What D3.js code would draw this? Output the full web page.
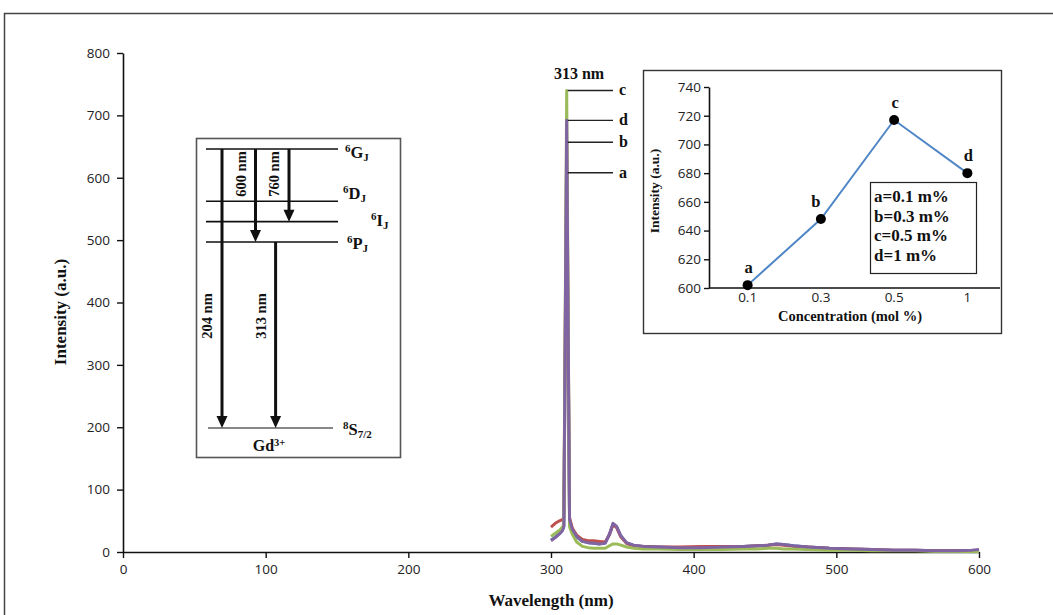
<!DOCTYPE html>
<html>
<head>
<meta charset="utf-8">
<script src="https://d3js.org/d3.v7.min.js"></script>
<style>
  body { margin: 0; background: #fff; }
  text { font-family: "Liberation Serif", "Times New Roman", serif; font-weight: bold; fill: #111; }
  .tick text { font-family: "Open Sans", sans-serif; font-weight: normal; fill: #222; }
</style>
</head>
<body>
<div id="chart"></div>
<script>
// ---- emission spectrum (wavelength in nm, intensity in a.u.)
var wavelengths = [300, 303, 306, 308, 309, 311, 313, 315, 318, 322, 326, 330, 334, 338, 341,
                   343.5, 346, 349, 353, 358, 365, 375, 390, 405, 420, 435, 445, 452, 458, 463,
                   470, 480, 495, 510, 525, 540, 555, 570, 585, 595, 600];
var seriesA = [19, 24, 30, 35, 42, 608, 50, 35, 24, 17, 15, 14, 13, 15, 28,
               45, 40, 25, 14, 10, 9, 8, 7, 7, 8, 9, 10, 11, 13, 12,
               10, 8, 6, 5, 4, 3, 3, 2, 2, 2, 3];
var seriesB = [40, 46, 50, 52, 55, 657, 55, 38, 27, 20, 18, 18, 17, 16, 28,
               44, 39, 24, 14, 10, 9, 8, 8, 9, 9, 9, 10, 11, 12, 11,
               9, 8, 6, 5, 4, 3, 3, 2, 2, 2, 2];
var seriesC = [25, 30, 35, 40, 45, 740, 40, 28, 16, 9, 7, 6, 6, 6, 10,
               13, 13, 11, 8, 6, 5, 5, 4, 4, 4, 5, 5, 6, 6, 5,
               5, 4, 3, 3, 2, 2, 2, 1, 1, 1, 1];
var seriesD = [18, 23, 29, 34, 40, 692, 52, 36, 25, 17, 15, 14, 13, 14, 29,
               46, 41, 26, 15, 11, 9, 8, 7, 7, 8, 9, 10, 11, 13, 12,
               10, 8, 6, 5, 4, 3, 3, 2, 2, 3, 4];
var seriesNames = ["a", "b", "c", "d"];
var seriesColors = ["#4f81bd", "#c0504d", "#9bbb59", "#8064a2"];
var xTicks = [0, 100, 200, 300, 400, 500, 600];
var yTicks = [0, 100, 200, 300, 400, 500, 600, 700, 800];

// ---- inset: peak intensity vs concentration
var concLabels = ["0.1", "0.3", "0.5", "1"];
var concIntensity = [602, 648, 717, 680];
var concLetters = ["a", "b", "c", "d"];
var insetTicks = [600, 620, 640, 660, 680, 700, 720, 740];
var legendLines = ["a=0.1 m%", "b=0.3 m%", "c=0.5 m%", "d=1 m%"];

// ---- Gd3+ energy levels (10^3 cm-1, as sketched) and transitions
var levelKeys = ["S", "P", "I", "D", "G"];
var levelEnergy = [0, 32, 35.5, 39, 48];
var levelSup = ["8", "6", "6", "6", "6"];
var levelMain = ["S", "P", "I", "D", "G"];
var levelSub = ["7/2", "J", "J", "J", "J"];
var transFrom = ["G", "G", "G", "P"];
var transTo = ["S", "P", "I", "S"];
var transLabel = ["204 nm", "600 nm", "760 nm", "313 nm"];
var transSlot = [0, 1, 2, 1.6];

var W = 1053, H = 615;
var svg = d3.select("#chart").append("svg")
    .attr("width", W)
    .attr("height", H);

svg.append("rect").attr("width", W).attr("height", H).attr("fill", "#fff");
// outer frame
svg.append("rect")
    .attr("x", 4.5).attr("y", 13.5)
    .attr("width", 1100).attr("height", 700)
    .attr("fill", "none").attr("stroke", "#444").attr("stroke-width", 1.5);

var x = d3.scaleLinear().domain([0, 600]).range([123, 979]);
var y = d3.scaleLinear().domain([0, 800]).range([552, 53]);

// axes
var gx = svg.append("g")
    .attr("transform", "translate(0," + y(0) + ")")
    .call(d3.axisBottom(x).tickValues(xTicks).tickSize(6).tickSizeOuter(0).tickPadding(6));
var gy = svg.append("g")
    .attr("transform", "translate(" + x(0) + ",0)")
    .call(d3.axisLeft(y).tickValues(yTicks).tickSize(6).tickSizeOuter(0).tickPadding(7));
[gx, gy].forEach(function(g) {
    g.select(".domain").attr("stroke", "#111").attr("stroke-width", 1.6);
    g.selectAll(".tick line").attr("stroke", "#111").attr("stroke-width", 1.4);
    g.selectAll(".tick text").style("font-size", "13.5px");
});

svg.append("text")
    .attr("x", 551).attr("y", 606)
    .attr("text-anchor", "middle")
    .style("font-size", "17px")
    .text("Wavelength (nm)");
svg.append("text")
    .attr("transform", "translate(66,312) rotate(-90)")
    .attr("text-anchor", "middle")
    .style("font-size", "17px")
    .text("Intensity (a.u.)");

// spectrum lines
var allSeries = [seriesA, seriesB, seriesC, seriesD];
var line = d3.line()
    .x(function(d, i) { return x(wavelengths[i]); })
    .y(function(d) { return y(d); });
svg.selectAll(".spec")
    .data(allSeries)
    .enter()
    .append("path")
    .attr("class", "spec")
    .attr("d", line)
    .attr("fill", "none")
    .attr("stroke", function(d, i) { return seriesColors[i]; })
    .attr("stroke-width", 3)
    .attr("stroke-linejoin", "round");

// peak markers a-d
var peakX = x(wavelengths[d3.maxIndex(seriesC)]);
svg.selectAll(".peakline")
    .data(allSeries)
    .enter()
    .append("line")
    .attr("x1", peakX + 1).attr("x2", 613)
    .attr("y1", function(d) { return y(d3.max(d)); })
    .attr("y2", function(d) { return y(d3.max(d)); })
    .attr("stroke", "#222").attr("stroke-width", 1.4);
svg.selectAll(".peaklabel")
    .data(allSeries)
    .enter()
    .append("text")
    .attr("x", 619)
    .attr("y", function(d) { return y(d3.max(d)) + 5; })
    .style("font-size", "16px")
    .text(function(d, i) { return seriesNames[i]; });
svg.append("text")
    .attr("x", 579).attr("y", 79)
    .attr("text-anchor", "middle")
    .style("font-size", "16px")
    .text("313 nm");

// ---- energy level diagram
var ey = d3.scaleLinear().domain([0, 48]).range([428, 149]);
var ex = d3.scaleLinear().domain([0, 2]).range([222, 289]);
var diag = svg.append("g");
diag.append("rect")
    .attr("x", 196.5).attr("y", 138.5)
    .attr("width", 204).attr("height", 319)
    .attr("fill", "none").attr("stroke", "#555").attr("stroke-width", 1.6);

levelKeys.forEach(function(k, i) {
    var yy = ey(levelEnergy[i]);
    diag.append("line")
        .attr("x1", k === "S" ? 208 : 206).attr("x2", k === "S" ? 333 : 338)
        .attr("y1", yy).attr("y2", yy)
        .attr("stroke", "#111").attr("stroke-width", k === "S" ? 1.2 : 1.6);
    var lx = {S: 343, P: 347, I: 371, D: 343, G: 345}[k];
    var ly = {S: 435, P: 249, I: 226, D: 199, G: 158}[k];
    var t = diag.append("text").attr("x", lx).attr("y", ly).style("font-size", "16.5px");
    t.append("tspan").attr("dy", -6).style("font-size", "11px").text(levelSup[i]);
    t.append("tspan").attr("dy", 6).text(levelMain[i]);
    t.append("tspan").attr("dy", 3).style("font-size", "11px").text(levelSub[i]);
});

transLabel.forEach(function(lab, i) {
    var ax = ex(transSlot[i]);
    var y1 = ey(levelEnergy[levelKeys.indexOf(transFrom[i])]);
    var y2 = ey(levelEnergy[levelKeys.indexOf(transTo[i])]);
    diag.append("line")
        .attr("x1", ax).attr("x2", ax)
        .attr("y1", y1).attr("y2", y2 - 10)
        .attr("stroke", "#111").attr("stroke-width", 3);
    diag.append("path")
        .attr("d", "M" + (ax - 5.5) + "," + (y2 - 12) + "L" + (ax + 5.5) + "," + (y2 - 12) + "L" + ax + "," + y2 + "Z")
        .attr("fill", "#111");
    var long = transTo[i] === "S";
    var ty = long ? 316 : 174;
    diag.append("text")
        .attr("transform", "translate(" + (ax - 10) + "," + ty + ") rotate(-90)")
        .attr("text-anchor", "middle")
        .style("font-size", "14.5px")
        .text(lab);
});

var gd = diag.append("text").attr("x", 269).attr("y", 451)
    .attr("text-anchor", "middle").style("font-size", "16px");
gd.append("tspan").text("Gd");
gd.append("tspan").attr("dy", -5).style("font-size", "10.5px").text("3+");

// ---- inset
var inset = svg.append("g");
inset.append("rect")
    .attr("x", 643.5).attr("y", 70.5)
    .attr("width", 358).attr("height", 263)
    .attr("fill", "#fff").attr("stroke", "#333").attr("stroke-width", 1.4);

var ix = d3.scaleBand().domain(concLabels).range([711, 1004]);
var iy = d3.scaleLinear().domain([600, 740]).range([288, 87]);

var igx = inset.append("g")
    .attr("transform", "translate(0," + iy(600) + ")")
    .call(d3.axisBottom(ix).tickSize(0).tickSizeOuter(0).tickPadding(4));
igx.select(".domain").attr("d", "M709,0H1000").attr("stroke", "#111").attr("stroke-width", 1.6);
var igy = inset.append("g")
    .attr("transform", "translate(709,0)")
    .call(d3.axisLeft(iy).tickValues(insetTicks).tickSize(5).tickSizeOuter(0).tickPadding(3));
igy.select(".domain").attr("stroke", "#111").attr("stroke-width", 1.6);
igy.selectAll(".tick line").attr("stroke", "#111").attr("stroke-width", 1.4);
inset.selectAll(".tick text").style("font-size", "13.5px");

var cx = function(d, i) { return ix(concLabels[i]) + ix.bandwidth() / 2; };
inset.append("path")
    .datum(concIntensity)
    .attr("d", d3.line().x(cx).y(function(d) { return iy(d); }))
    .attr("fill", "none").attr("stroke", "#4f86c6").attr("stroke-width", 2);
inset.selectAll(".pt")
    .data(concIntensity)
    .enter()
    .append("circle")
    .attr("cx", cx)
    .attr("cy", function(d) { return iy(d); })
    .attr("r", 5)
    .attr("fill", "#000");
inset.selectAll(".ptlab")
    .data(concIntensity)
    .enter()
    .append("text")
    .attr("x", function(d, i) { return cx(d, i) + (i === 1 ? -5 : 1); })
    .attr("y", function(d) { return iy(d) - 12; })
    .attr("text-anchor", "middle")
    .style("font-size", "16.5px")
    .text(function(d, i) { return concLetters[i]; });

inset.append("text")
    .attr("transform", "translate(659,191) rotate(-90)")
    .attr("text-anchor", "middle")
    .style("font-size", "13.5px")
    .text("Intensity (a.u.)");
inset.append("text")
    .attr("x", 850).attr("y", 321)
    .attr("text-anchor", "middle")
    .style("font-size", "14.5px")
    .text("Concentration (mol %)");

inset.append("rect")
    .attr("x", 870.5).attr("y", 182.5)
    .attr("width", 106).attr("height", 91)
    .attr("fill", "#fff").attr("stroke", "#222").attr("stroke-width", 1.2);
inset.selectAll(".leg")
    .data(legendLines)
    .enter()
    .append("text")
    .attr("x", 874)
    .attr("y", function(d, i) { return 202 + i * 19.5; })
    .style("font-size", "17px")
    .text(function(d) { return d; });
</script>
</body>
</html>
